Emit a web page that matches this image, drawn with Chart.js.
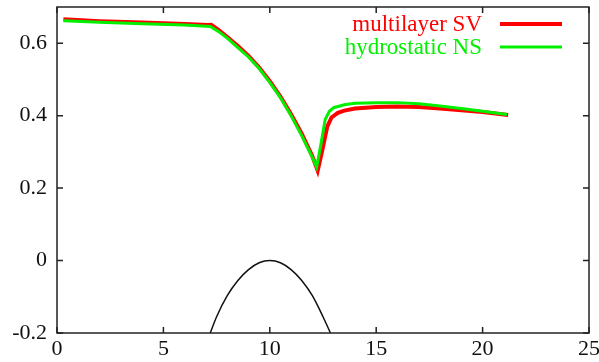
<!DOCTYPE html>
<html>
<head>
<meta charset="utf-8">
<script src="https://cdn.jsdelivr.net/npm/chart.js@4"></script>
<style>
  html, body { margin: 0; padding: 0; background: #fff; }
  #wrap { width: 599px; height: 362px; position: relative; }
</style>
</head>
<body>
<div id="wrap"><canvas id="chart"></canvas></div>
<script>
// free surface, multilayer Saint-Venant
const svX = [0.3, 2, 4, 6, 7.1, 7.25, 7.6, 8, 8.5, 9, 9.5, 10, 10.5, 11, 11.5, 12, 12.25, 12.45, 12.7, 12.9, 13.2, 13.5, 14, 15, 16, 17, 18, 19, 20, 21.2];
const svY = [0.666, 0.661, 0.657, 0.653, 0.650, 0.651, 0.636, 0.617, 0.592, 0.565, 0.533, 0.495, 0.453, 0.404, 0.350, 0.288, 0.248, 0.300, 0.370, 0.395, 0.408, 0.414, 0.420, 0.424, 0.425, 0.424, 0.420, 0.415, 0.410, 0.402];
// free surface, hydrostatic Navier-Stokes
const nsX = [0.3, 2, 4, 6, 7.2, 7.6, 8, 8.5, 9, 9.5, 10, 10.5, 11, 11.5, 12, 12.2, 12.4, 12.6, 12.8, 13, 13.5, 14, 15, 16, 17, 18, 19, 20, 21.15];
const nsY = [0.662, 0.658, 0.654, 0.650, 0.646, 0.632, 0.614, 0.588, 0.562, 0.530, 0.492, 0.450, 0.400, 0.345, 0.285, 0.258, 0.320, 0.389, 0.412, 0.422, 0.430, 0.434, 0.436, 0.436, 0.433, 0.427, 0.420, 0.412, 0.403];
// bottom topography
const bedX = [7.2, 7.5, 8, 8.5, 9, 9.5, 10, 10.5, 11, 11.5, 12, 12.5, 12.85];
const bedY = [-0.2, -0.155, -0.097, -0.055, -0.025, -0.006, 0, -0.006, -0.025, -0.055, -0.097, -0.155, -0.2];

const xTicks = [0, 5, 10, 15, 20, 25];
const yTicks = [-0.2, 0, 0.2, 0.4, 0.6];

const FONT = '"Liberation Serif", "DejaVu Serif", serif';
const toPts = (xs, ys) => xs.map((x, i) => ({ x, y: ys[i] }));

// gnuplot-like frame with inward ticks on all four sides, plus the legend
const framePlugin = {
    id: 'frame',
    afterDatasetsDraw(chart) {
        const { ctx, chartArea: a, scales } = chart;
        const tl = 6;
        ctx.save();
        ctx.strokeStyle = '#222';
        ctx.lineWidth = 1.5;
        ctx.strokeRect(a.left, a.top, a.right - a.left, a.bottom - a.top);
        ctx.beginPath();
        xTicks.forEach(v => {
            const px = scales.x.getPixelForValue(v);
            ctx.moveTo(px, a.bottom); ctx.lineTo(px, a.bottom - tl);
            ctx.moveTo(px, a.top); ctx.lineTo(px, a.top + tl);
        });
        yTicks.forEach(v => {
            const py = scales.y.getPixelForValue(v);
            ctx.moveTo(a.left, py); ctx.lineTo(a.left + tl, py);
            ctx.moveTo(a.right, py); ctx.lineTo(a.right - tl, py);
        });
        ctx.stroke();

        // legend, text right-aligned before a line sample
        ctx.font = '23px ' + FONT;
        ctx.textAlign = 'right';
        ctx.textBaseline = 'middle';
        chart.data.datasets.filter(d => d.label).forEach((d, i) => {
            const y = a.top + 17 + i * 23;
            ctx.fillStyle = d.borderColor;
            ctx.fillText(d.label, a.right - 107, y + 1);
            ctx.strokeStyle = d.borderColor;
            ctx.lineWidth = d.borderWidth;
            ctx.beginPath();
            ctx.moveTo(a.right - 89, y); ctx.lineTo(a.right - 27, y);
            ctx.stroke();
        });
        ctx.restore();
    }
};

new Chart(document.getElementById('chart'), {
    type: 'line',
    data: {
        datasets: [
            { label: 'multilayer SV', data: toPts(svX, svY), borderColor: '#ff0000', borderWidth: 4, pointRadius: 0, tension: 0, order: 1 },
            { label: 'hydrostatic NS', data: toPts(nsX, nsY), borderColor: '#00f000', borderWidth: 3, pointRadius: 0, tension: 0, order: 0 },
            { label: '', data: toPts(bedX, bedY), borderColor: '#111', borderWidth: 1.5, pointRadius: 0, cubicInterpolationMode: 'monotone', order: 2 }
        ]
    },
    options: {
        responsive: true, maintainAspectRatio: false, animation: false,
        layout: { padding: { top: 7, right: 10, left: 0, bottom: 0 } },
        plugins: { legend: { display: false }, tooltip: { enabled: false } },
        scales: {
            x: {
                type: 'linear', min: 0, max: 25,
                grid: { display: false, drawTicks: false },
                border: { display: false },
                afterBuildTicks: s => { s.ticks = xTicks.map(value => ({ value })); },
                ticks: { color: '#111', padding: 3, font: { family: FONT, size: 22 }, maxRotation: 0 },
                afterFit: s => { s.height = 29; s.paddingLeft = 0; s.paddingRight = 0; }
            },
            y: {
                type: 'linear', min: -0.2, max: 0.7,
                grid: { display: false, drawTicks: false },
                border: { display: false },
                afterBuildTicks: s => { s.ticks = yTicks.map(value => ({ value })); },
                ticks: { color: '#111', padding: 10, font: { family: FONT, size: 22 }, callback: v => String(Number(v.toFixed(1))) },
                afterFit: s => { s.width = 57; s.paddingTop = 0; s.paddingBottom = 0; }
            }
        }
    },
    plugins: [framePlugin]
});
</script>
</body>
</html>
